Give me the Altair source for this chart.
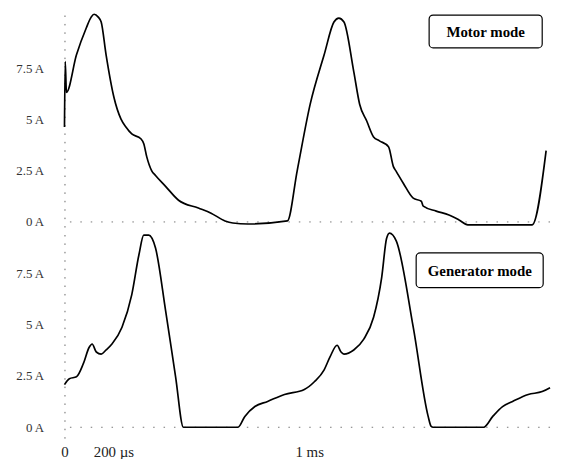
import altair as alt
import pandas as pd

# ---- data (time in µs, current in A) ----
top_t = [0, 3, 8, 49, 89, 109, 121, 138, 150, 170,
         202, 231, 251, 275, 312, 324, 336, 356, 372, 413,
         466, 547, 599, 656, 688, 749, 911, 951, 1004, 1061,
         1101, 1121, 1142, 1182, 1206, 1235, 1263, 1287, 1324, 1344,
         1356, 1385, 1425, 1458, 1466, 1519, 1571, 1612, 1648, 1911,
         1968]
top_a = [4.64, 7.83, 6.33, 8.16, 9.47, 10.0, 10.14, 10.0, 9.76, 8.16,
         6.09, 5.02, 4.64, 4.3, 4.06, 3.82, 3.19, 2.51, 2.27, 1.74,
         1.06, 0.68, 0.43, 0.05, -0.05, -0.1, 0.05, 2.51, 5.75, 8.16,
         9.76, 9.95, 9.76, 7.34, 5.75, 4.93, 4.15, 3.96, 3.67, 2.7,
         2.46, 1.88, 1.16, 1.01, 0.77, 0.53, 0.34, 0.1, -0.14, -0.14,
         3.48]

bot_t = [0, 20, 49, 77, 101, 113, 130, 150, 170, 194,
         235, 275, 304, 324, 344, 372, 413, 454, 486, 709,
         737, 778, 830, 899, 980, 1021, 1061, 1085, 1114, 1130,
         1142, 1182, 1223, 1263, 1296, 1316, 1328, 1356, 1425, 1486,
         1498, 1506, 1713, 1750, 1790, 1831, 1895, 1952, 1984]
bot_a = [2.08, 2.37, 2.46, 3.1, 3.9, 4.06, 3.67, 3.57, 3.77, 4.06,
         4.88, 6.47, 8.4, 9.37, 9.37, 8.74, 5.7, 2.46, 0, 0,
         0.53, 1.01, 1.26, 1.6, 1.84, 2.22, 2.8, 3.43, 4.0, 3.67,
         3.57, 3.77, 4.3, 5.36, 7.3, 9.2, 9.47, 9.08, 4.88, 0.53,
         0.05, 0, 0, 0.53, 1.01, 1.26, 1.6, 1.74, 1.93]

y_ticks = [0, 2.5, 5, 7.5]
x_ticks = [0, 200, 1000]
x_tick_labels = ["0", "200 µs", "1 ms"]
mode_labels = ["Motor mode", "Generator mode"]

# annotation boxes in data coordinates (t1, t2, a1, a2, text t, text a)
top_box = [1490, 1952, 10.1, 8.5, 1721, 9.28]
bot_box = [1437, 1956, 8.5, 6.81, 1697, 7.63]

FONT = "Liberation Serif"
X_DOMAIN = [0, 1984]

label_expr = " : ".join(
    f"datum.value == {v} ? '{l}'" for v, l in zip(x_ticks[:-1], x_tick_labels[:-1])
) + f" : '{x_tick_labels[-1]}'"


def panel(t, a, ydom, height, label, box, show_x):
    df = pd.DataFrame({"t": t, "a": a, "i": list(range(len(t)))})
    xscale = alt.Scale(domain=X_DOMAIN, nice=False, zero=False)
    yscale = alt.Scale(domain=ydom, nice=False, zero=False)
    if show_x:
        xaxis = alt.Axis(values=x_ticks, labelExpr=label_expr, title=None,
                         grid=False, ticks=False, domain=False,
                         labelPadding=7, labelFont=FONT, labelFontSize=15,
                         labelColor="#222", labelFlush=False, labelOverlap=False)
    else:
        xaxis = None
    yaxis = alt.Axis(values=y_ticks, labelExpr="datum.value + ' A'", title=None,
                     grid=False, ticks=False, labelPadding=21, minExtent=57,
                     domainDash=[1.5, 7], domainColor="#666", domainWidth=1,
                     labelFont=FONT, labelFontSize=13, labelColor="#333")
    X = alt.X("t:Q", scale=xscale, axis=xaxis)
    Y = alt.Y("a:Q", scale=yscale, axis=yaxis)

    rule = alt.Chart(pd.DataFrame({"a": [0]})).mark_rule(
        strokeDash=[1.5, 9], color="#777", strokeWidth=1
    ).encode(y=Y)
    line = alt.Chart(df).mark_line(
        color="black", strokeWidth=1.7, interpolate="monotone"
    ).encode(x=X, y=Y, order="i:Q")
    bdf = pd.DataFrame({"t": [box[0]], "t2": [box[1]], "a": [box[2]], "a2": [box[3]]})
    rect = alt.Chart(bdf).mark_rect(
        fill="white", stroke="black", strokeWidth=1.2, cornerRadius=4
    ).encode(x=X, x2="t2:Q", y=Y, y2="a2:Q")
    tdf = pd.DataFrame({"t": [box[4]], "a": [box[5]], "label": [label]})
    text = alt.Chart(tdf).mark_text(
        font=FONT, fontSize=15, fontWeight="bold", align="center",
        baseline="middle", color="black"
    ).encode(x=X, y=Y, text="label:N")
    return alt.layer(rule, line, rect, text).properties(width=490, height=height)


top = panel(top_t, top_a, [-0.25, 10.2], 216, mode_labels[0], top_box, False)
bottom = panel(bot_t, bot_a, [-0.53, 9.52], 208, mode_labels[1], bot_box, True)

chart = alt.vconcat(top, bottom, spacing=0).properties(
    padding={"left": 0, "top": 0, "right": 0, "bottom": 0},
    background="white",
).configure_view(stroke=None)

chart.save("out.html", embed_options={"renderer": "svg", "actions": False})
